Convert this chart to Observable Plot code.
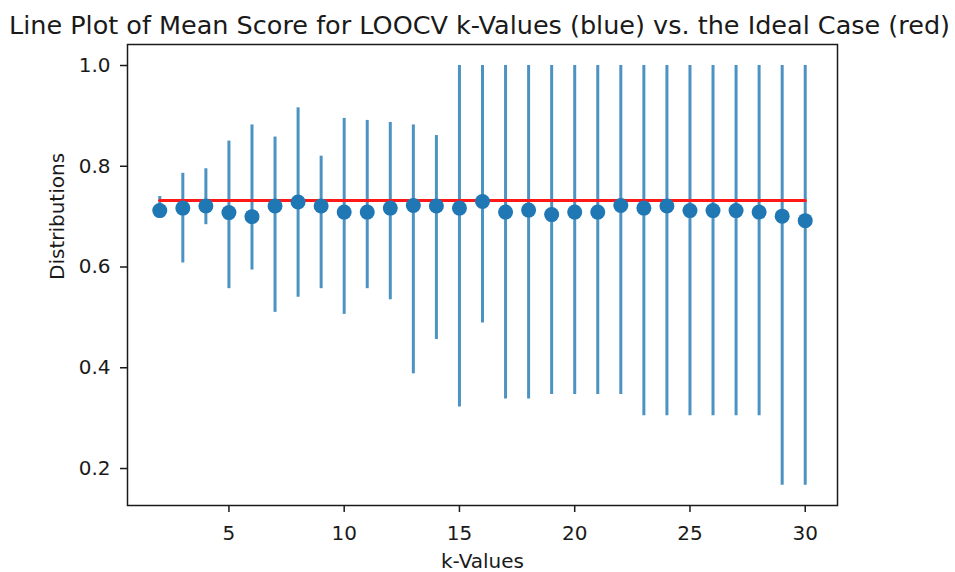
<!DOCTYPE html>
<html><head><meta charset="utf-8">
<script src="https://cdn.jsdelivr.net/npm/d3@7"></script>
<script src="https://cdn.jsdelivr.net/npm/@observablehq/plot@0.6"></script>
<style>body{margin:0;background:#fff;} svg{font-family:"DejaVu Sans";}</style>
</head><body><div id="chart"></div>
<script>
const kValues    = [2, 3, 4, 5, 6, 7, 8, 9, 10, 11, 12, 13, 14, 15, 16, 17, 18, 19, 20, 21, 22, 23, 24, 25, 26, 27, 28, 29, 30];
const meanScore  = [0.712, 0.717, 0.721, 0.708, 0.700, 0.721, 0.729, 0.721, 0.709, 0.709, 0.717, 0.722, 0.721, 0.717, 0.730, 0.709, 0.713, 0.704, 0.709, 0.709, 0.722, 0.717, 0.721, 0.712, 0.712, 0.712, 0.709, 0.701, 0.692];
const lowerScore = [0.700, 0.608, 0.684, 0.557, 0.594, 0.510, 0.540, 0.557, 0.506, 0.557, 0.535, 0.388, 0.456, 0.322, 0.489, 0.338, 0.338, 0.347, 0.347, 0.347, 0.347, 0.305, 0.305, 0.305, 0.305, 0.305, 0.305, 0.167, 0.167];
const upperScore = [0.740, 0.786, 0.795, 0.850, 0.882, 0.858, 0.916, 0.820, 0.895, 0.891, 0.887, 0.882, 0.861, 1.0, 1.0, 1.0, 1.0, 1.0, 1.0, 1.0, 1.0, 1.0, 1.0, 1.0, 1.0, 1.0, 1.0, 1.0, 1.0];
const idealScore = 0.732;
const xTicks = [5, 10, 15, 20, 25, 30];
const yTicks = [0.2, 0.4, 0.6, 0.8, 1.0];
const titleText = "Line Plot of Mean Score for LOOCV k-Values (blue) vs. the Ideal Case (red)";
const xLabel = "k-Values";
const yLabel = "Distributions";

const rows = kValues.map((k, i) => ({k, mean: meanScore[i], lo: lowerScore[i], hi: upperScore[i]}));
const ideal = [{k: kValues[0], y: idealScore}, {k: kValues[kValues.length - 1], y: idealScore}];

const plot = Plot.plot({
  width: 955, height: 572,
  marginLeft: 127, marginRight: 118, marginTop: 44, marginBottom: 67,
  style: {fontFamily: "DejaVu Sans", fontSize: "20px", color: "#1a1a1a", background: "white"},
  x: {domain: [0.6, 31.4]},
  y: {domain: [0.1266, 1.0417]},
  marks: [
    Plot.ruleX(rows, {x: "k", y1: "lo", y2: "hi", stroke: "#1f77b4", strokeWidth: 3, strokeOpacity: 0.8}),
    Plot.line(ideal, {x: "k", y: "y", stroke: "#ff1a1a", strokeWidth: 3.2}),
    Plot.dot(rows, {x: "k", y: "mean", r: 7.5, fill: "#1f77b4"}),
    Plot.frame({stroke: "#1a1a1a", strokeWidth: 1.5}),
    Plot.axisX({ticks: xTicks, tickSize: 7, tickPadding: 13, label: null, strokeWidth: 1.5, fontSize: 20}),
    Plot.axisY({ticks: yTicks, tickFormat: d3.format(".1f"), tickSize: 7, tickPadding: 10, label: null, strokeWidth: 1.5, fontSize: 20}),
    Plot.text([titleText], {frameAnchor: "top", text: d => d, dx: -3, dy: -11, lineAnchor: "bottom", fontSize: 25.5}),
    Plot.text([xLabel], {frameAnchor: "bottom", text: d => d, dy: 62, lineAnchor: "bottom", fontSize: 20}),
    Plot.text([yLabel], {frameAnchor: "left", text: d => d, rotate: -90, dx: -70, dy: 5, fontSize: 20})
  ]
});
document.getElementById("chart").appendChild(plot);
</script>
</body></html>
